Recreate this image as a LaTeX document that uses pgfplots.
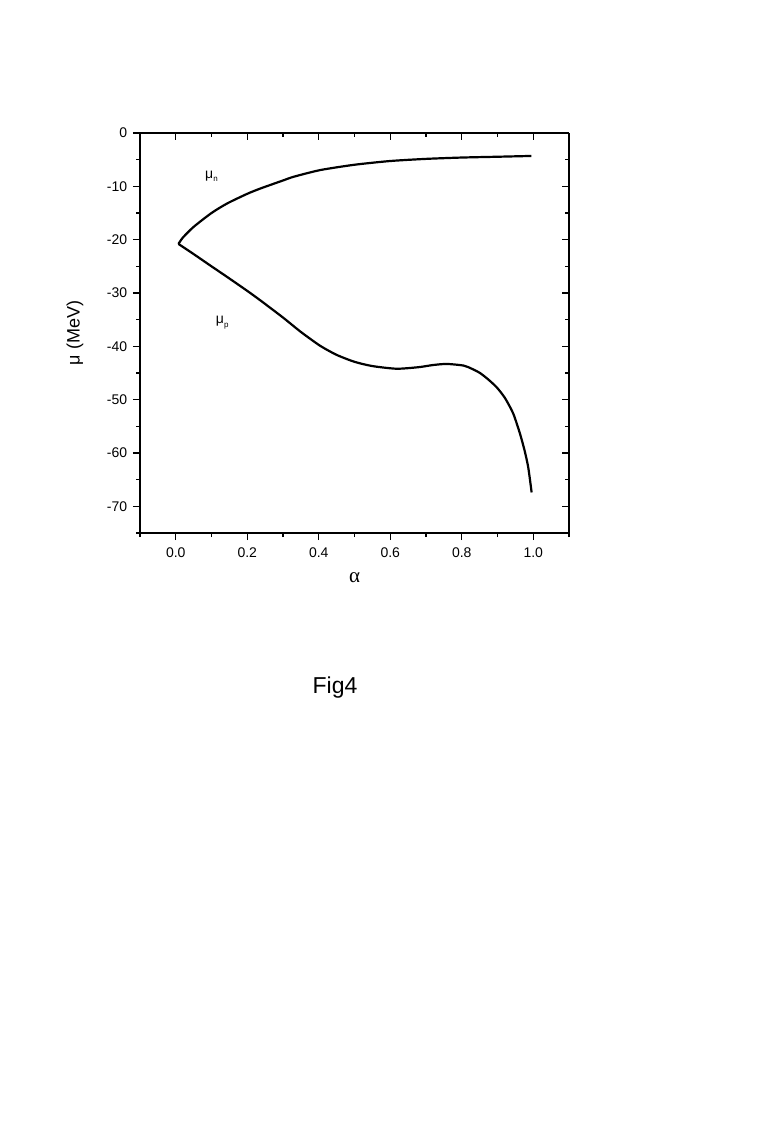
\documentclass[border=0pt]{standalone}
\usepackage{fontspec}
\setmainfont{Liberation Sans}
\newfontfamily\serifgreek{Liberation Serif}
\usepackage{pgfplots}
\pgfplotsset{compat=1.18}
\begin{document}
\fontsize{14}{16}\selectfont
\begin{tikzpicture}[x=1pt,y=1pt]
\path[use as bounding box] (0,0) rectangle (782,-1141);
\pgfplotsset{
  common/.style={
    at={(140pt,-533pt)}, anchor=south west,
    scale only axis, width=429pt, height=400pt,
    xmin=-0.1, xmax=1.1, ymin=-75, ymax=0,
    xtick={0,0.2,0.4,0.6,0.8,1.0},
    minor xtick={-0.1,0.1,0.3,0.5,0.7,0.9,1.1},
    ytick={-70,-60,-50,-40,-30,-20,-10,0},
    minor ytick={-75,-65,-55,-45,-35,-25,-15,-5},
    major tick length=7pt, minor tick length=4pt,
    every tick/.style={black, line width=1.2pt},
    axis line style={line width=1.5pt},
    /pgf/number format/assume math mode=true,
    /pgf/number format/fixed,
    /pgf/number format/precision=1,
  }
}
\begin{axis}[common,
  axis x line*=bottom, axis y line*=left,
  tick align=outside,
  xticklabel style={/pgf/number format/fixed zerofill, /pgf/number format/precision=1, yshift=-3pt},
  yticklabel style={xshift=-1pt},
  xlabel={\fontsize{21}{22}\selectfont\serifgreek α},
  xlabel style={yshift=-5pt},
  ylabel={\fontsize{18}{20}\selectfont μ (MeV)},
  ylabel style={yshift=14pt},
]
\addplot[black, line width=2.2pt, smooth, tension=0.4] coordinates {
(0.0075,-20.8) (0.02,-19.6) (0.05,-17.6) (0.1,-15.0) (0.144,-13.2) (0.2,-11.4)
(0.237,-10.4) (0.3,-8.9) (0.33,-8.2) (0.404,-6.95) (0.5,-5.95) (0.6,-5.25)
(0.7,-4.85) (0.8,-4.6) (0.9,-4.45) (0.995,-4.3)
};
\addplot[black, line width=2.2pt, smooth, tension=0.4] coordinates {
(0.0075,-20.8) (0.05,-22.7) (0.1,-25.0) (0.144,-27.0) (0.2,-29.6) (0.237,-31.4)
(0.3,-34.6) (0.35,-37.3) (0.404,-39.9) (0.45,-41.6) (0.5,-42.9)
(0.55,-43.7) (0.618,-44.2) (0.68,-43.9) (0.72,-43.5) (0.758,-43.3) (0.805,-43.6)
(0.828,-44.2) (0.851,-45.0) (0.874,-46.2) (0.898,-47.7) (0.921,-49.7) (0.944,-52.6)
(0.963,-56.4) (0.976,-59.6) (0.986,-62.7) (0.9955,-67.4)
};
\node[anchor=center] at (axis cs:0.10,-8.1) {μ\raisebox{-0.5ex}{\fontsize{8}{9}\selectfont n}};
\node[anchor=center] at (axis cs:0.13,-35.5) {μ\raisebox{-0.5ex}{\fontsize{8}{9}\selectfont p}};
\end{axis}
\begin{axis}[common,
  axis x line*=top, axis y line*=right,
  tick align=inside,
  xticklabels={}, yticklabels={},
]
\end{axis}
\node[anchor=center] at (335,-688) {\fontsize{23}{26}\selectfont Fig4};
\end{tikzpicture}
\end{document}
